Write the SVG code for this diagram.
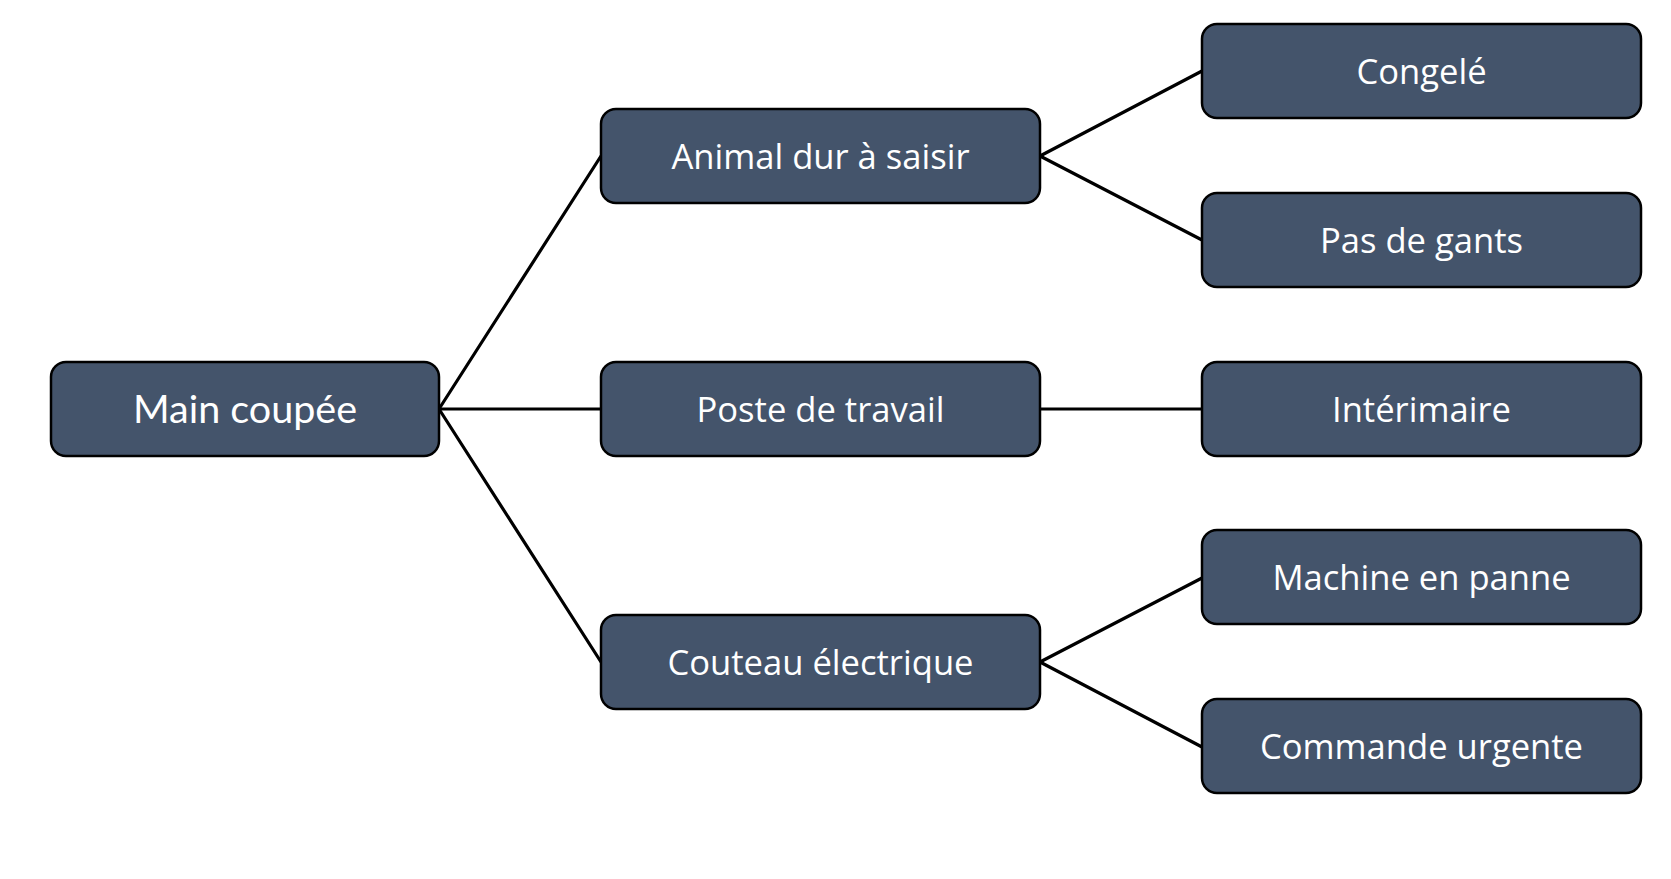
<svg xmlns="http://www.w3.org/2000/svg" width="1671" height="879" viewBox="0 0 1671 879">
<style>
.box{fill:#44546b;stroke:#000;stroke-width:2.5}
.lbl{font-family:"Open Sans","Noto Sans",sans-serif;fill:#fff;text-anchor:middle;font-size:34.6px}
.big{font-family:Lato,"Liberation Sans",sans-serif;font-size:39.5px}
.conn line{stroke:#000;stroke-width:3.2;stroke-linecap:round}
</style>
<rect width="1671" height="879" fill="#fff"/>
<g class="conn" id="connectors">
<line x1="439" y1="409" x2="601" y2="156"/>
<line x1="439" y1="409" x2="601" y2="409"/>
<line x1="439" y1="409" x2="601" y2="662"/>
<line x1="1040" y1="156" x2="1202" y2="71"/>
<line x1="1040" y1="156" x2="1202" y2="240"/>
<line x1="1040" y1="409" x2="1202" y2="409"/>
<line x1="1040" y1="662" x2="1202" y2="578"/>
<line x1="1040" y1="662" x2="1202" y2="747"/>
</g>
<g id="main"><rect class="box" x="51" y="362" width="388" height="94" rx="15"/><text class="lbl big" x="245" y="423">Main coupée</text></g>
<g id="animal"><rect class="box" x="601" y="109" width="439" height="94" rx="15"/><text class="lbl" x="820.5" y="168.5">Animal dur à saisir</text></g>
<g id="poste"><rect class="box" x="601" y="362" width="439" height="94" rx="15"/><text class="lbl" x="820.5" y="421.5">Poste de travail</text></g>
<g id="couteau"><rect class="box" x="601" y="615" width="439" height="94" rx="15"/><text class="lbl" x="820.5" y="674.5">Couteau électrique</text></g>
<g id="congele"><rect class="box" x="1202" y="24" width="439" height="94" rx="15"/><text class="lbl" x="1421.5" y="83.5">Congelé</text></g>
<g id="gants"><rect class="box" x="1202" y="193" width="439" height="94" rx="15"/><text class="lbl" x="1421.5" y="252.5">Pas de gants</text></g>
<g id="interimaire"><rect class="box" x="1202" y="362" width="439" height="94" rx="15"/><text class="lbl" x="1421.5" y="421.5">Intérimaire</text></g>
<g id="machine"><rect class="box" x="1202" y="530" width="439" height="94" rx="15"/><text class="lbl" x="1421.5" y="589.5">Machine en panne</text></g>
<g id="commande"><rect class="box" x="1202" y="699" width="439" height="94" rx="15"/><text class="lbl" x="1421.5" y="758.5">Commande urgente</text></g>
</svg>
